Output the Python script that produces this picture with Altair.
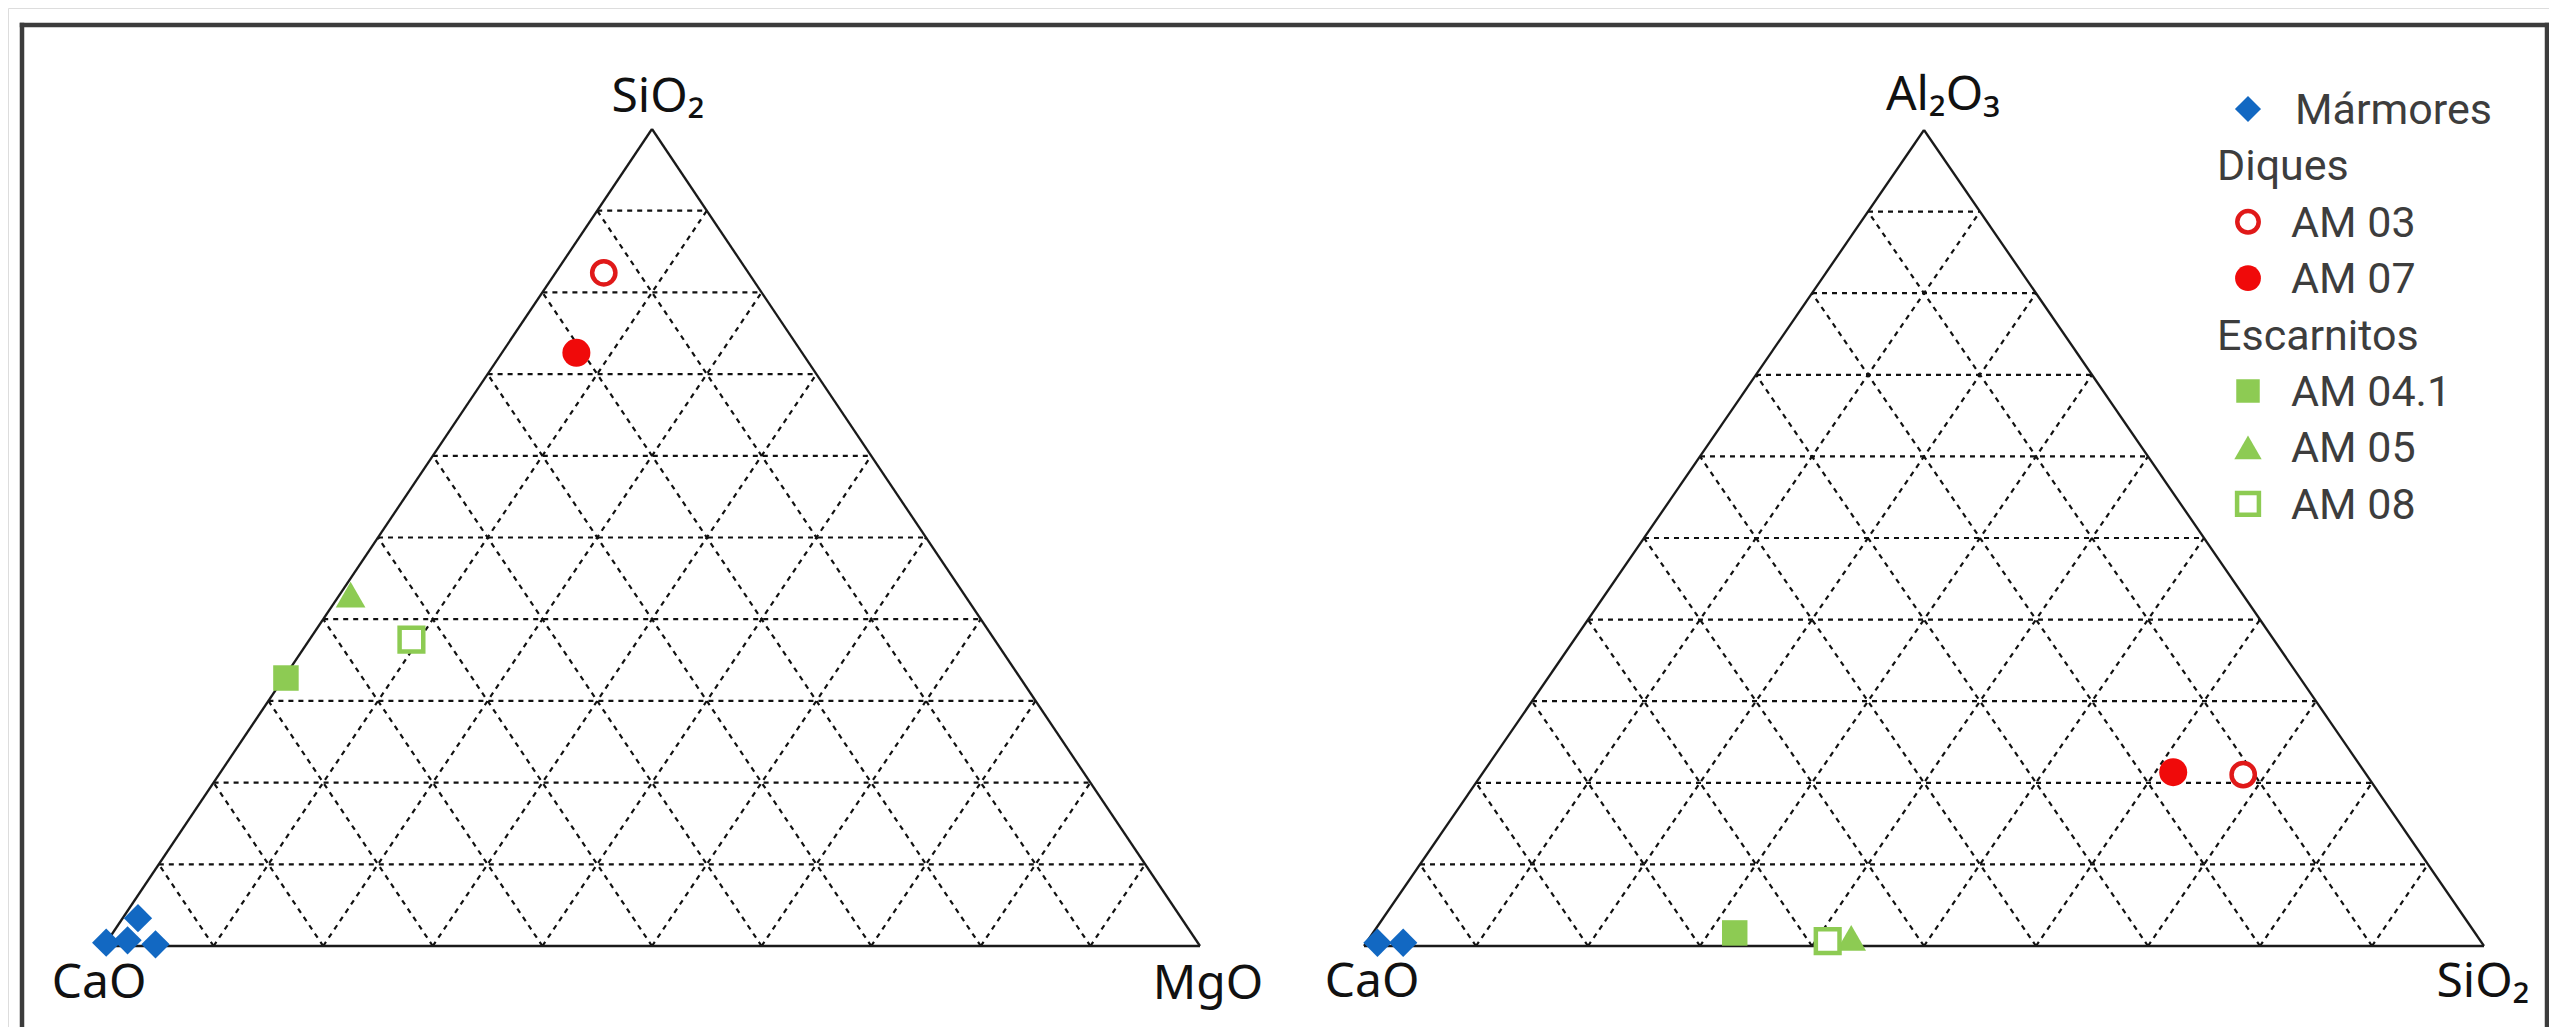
import altair as alt
import pandas as pd

# ---------------- data (percent) ----------------
# Left diagram: CaO (left corner), MgO (right corner), SiO2 (top)
L_series = ["Mármores", "Mármores", "Mármores", "Mármores",
            "AM 03", "AM 07", "AM 04.1", "AM 05", "AM 08"]
L_cao = [99.6, 97.5, 95.2, 95.2, 13.2, 20.6, 67.0, 56.0, 53.2]
L_mgo = [0.0, 1.8, 4.6, 1.4, 4.4, 6.8, 0.2, 1.0, 9.3]
L_sio2 = [0.4, 0.7, 0.2, 3.4, 82.4, 72.6, 32.8, 43.0, 37.5]

# Right diagram: CaO (left corner), SiO2 (right corner), Al2O3 (top)
R_series = ["Mármores", "Mármores", "AM 03", "AM 07", "AM 04.1", "AM 05", "AM 08"]
R_cao = [98.6, 96.3, 11.0, 17.1, 66.1, 56.0, 58.3]
R_sio2 = [1.0, 3.3, 68.0, 61.6, 32.3, 43.0, 41.1]
R_al2o3 = [0.4, 0.4, 21.0, 21.3, 1.6, 1.0, 0.6]

grid_levels = [10, 20, 30, 40, 50, 60, 70, 80, 90]

L_corner_labels = ["CaO", "MgO", "SiO₂"]
R_corner_labels = ["CaO", "SiO₂", "Al₂O₃"]

legend_labels = ["Mármores", "Diques", "AM 03", "AM 07", "Escarnitos",
                 "AM 04.1", "AM 05", "AM 08"]
legend_is_header = [False, True, False, False, True, False, False, False]
legend_marker = ["Mármores", None, "AM 03", "AM 07", None, "AM 04.1", "AM 05", "AM 08"]

# ---------------- layout (page pixels) ----------------
PANELS = {
    "L": dict(x0=104, x1=1200, yb=946, ya=129),
    "R": dict(x0=1364, x1=2484, yb=946, ya=130),
}
LABEL_OFFSETS = {
    "L": [(-5, 52), (8, 53), (6, -17)],
    "R": [(8, 51), (-1, 51), (19, -20)],
}

STYLE = {
    "Mármores": dict(shape="diamond", filled=True, color="#1268C2", size=800, sw=0),
    "AM 03": dict(shape="circle", filled=False, color="#E01919", size=540, sw=4.5),
    "AM 07": dict(shape="circle", filled=True, color="#F00A0A", size=784, sw=0),
    "AM 04.1": dict(shape="square", filled=True, color="#8DCB53", size=650, sw=0),
    "AM 05": dict(shape="triangle-up", filled=True, color="#8DCB53", size=880, sw=0),
    "AM 08": dict(shape="square", filled=False, color="#8DCB53", size=560, sw=4.5),
}
ORDER = ["Mármores", "AM 03", "AM 07", "AM 04.1", "AM 05", "AM 08"]


def tern(p, left, right, top):
    s = left + right + top
    r, t = right / s, top / s
    u = r + t / 2
    return (p["x0"] + u * (p["x1"] - p["x0"]), p["yb"] - t * (p["yb"] - p["ya"]))


# grid and edges
grid_rows, edge_rows = [], []
for key, p in PANELS.items():
    for g in grid_levels:
        t = g / 100
        for a, b in [
            (tern(p, 1 - t, 0, t), tern(p, 0, 1 - t, t)),
            (tern(p, t, 1 - t, 0), tern(p, t, 0, 1 - t)),
            (tern(p, 1 - t, t, 0), tern(p, 0, t, 1 - t)),
        ]:
            grid_rows.append(dict(x=a[0], y=a[1], x2=b[0], y2=b[1]))
    c = [tern(p, 1, 0, 0), tern(p, 0, 1, 0), tern(p, 0, 0, 1)]
    for i in range(3):
        a, b = c[i], c[(i + 1) % 3]
        edge_rows.append(dict(x=a[0], y=a[1], x2=b[0], y2=b[1]))

grid_df = pd.DataFrame(grid_rows)
edge_df = pd.DataFrame(edge_rows)

# corner labels
lab_rows = []
for key, labels in [("L", L_corner_labels), ("R", R_corner_labels)]:
    p = PANELS[key]
    corners = [tern(p, 1, 0, 0), tern(p, 0, 1, 0), tern(p, 0, 0, 1)]
    for (cx, cy), (dx, dy), txt in zip(corners, LABEL_OFFSETS[key], labels):
        lab_rows.append(dict(x=cx + dx, y=cy + dy, text=txt))
lab_df = pd.DataFrame(lab_rows)

# points
pt_rows = []
for s, a, b, c in zip(L_series, L_cao, L_mgo, L_sio2):
    x, y = tern(PANELS["L"], a, b, c)
    pt_rows.append(dict(series=s, x=x, y=y))
for s, a, b, c in zip(R_series, R_cao, R_sio2, R_al2o3):
    x, y = tern(PANELS["R"], a, b, c)
    pt_rows.append(dict(series=s, x=x, y=y))
pt_df = pd.DataFrame(pt_rows)

# frame (top, left, right; bottom is outside the picture)
FX0, FX1, FY0, FY1 = 22, 2547, 25, 1040
frame_df = pd.DataFrame([
    dict(x=FX0, y=FY0, x2=FX1, y2=FY0),
    dict(x=FX0, y=FY0, x2=FX0, y2=FY1),
    dict(x=FX1, y=FY0, x2=FX1, y2=FY1),
])

# legend
LEG_Y0, LEG_DY = 124, 56.4
leg_rows = []
for i, (txt, hdr, mk) in enumerate(zip(legend_labels, legend_is_header, legend_marker)):
    yb = LEG_Y0 + i * LEG_DY
    tx = 2217 if hdr else (2295 if txt == "Mármores" else 2291)
    leg_rows.append(dict(text=txt, x=tx, y=yb, marker=mk, mx=2248, my=yb - 15))
leg_df = pd.DataFrame(leg_rows)

# ---------------- chart ----------------
XS = alt.Scale(domain=[8, 2549], nice=False, zero=False)
YS = alt.Scale(domain=[8, 1027], nice=False, zero=False, reverse=True)


def X(f="x"):
    return alt.X(f"{f}:Q", scale=XS, axis=None)


def Y(f="y"):
    return alt.Y(f"{f}:Q", scale=YS, axis=None)


layers = []
layers.append(alt.Chart(frame_df).mark_rule(color="#3c3c3c", strokeWidth=4.5, strokeCap="square").encode(
    x=X(), y=Y(), x2="x2:Q", y2="y2:Q"))
layers.append(alt.Chart(grid_df).mark_rule(color="#111111", strokeWidth=2.2, strokeDash=[5, 5]).encode(
    x=X(), y=Y(), x2="x2:Q", y2="y2:Q"))
layers.append(alt.Chart(edge_df).mark_rule(color="#1a1a1a", strokeWidth=2.3).encode(
    x=X(), y=Y(), x2="x2:Q", y2="y2:Q"))
layers.append(alt.Chart(lab_df).mark_text(font="Noto Sans", fontSize=48, color="#111111",
                                          align="center", baseline="alphabetic").encode(
    x=X(), y=Y(), text="text:N"))

for s in ORDER:
    st = STYLE[s]
    kw = dict(shape=st["shape"], size=st["size"], opacity=1)
    if st["filled"]:
        kw.update(filled=True, fill=st["color"], strokeWidth=0)
    else:
        kw.update(filled=False, fill="white", fillOpacity=1, stroke=st["color"], strokeWidth=st["sw"])
    layers.append(alt.Chart(pt_df[pt_df.series == s]).mark_point(**kw).encode(x=X(), y=Y()))
    # legend marker
    kw2 = dict(kw)
    kw2["size"] = int(st["size"] * 0.85)
    layers.append(alt.Chart(leg_df[leg_df.marker == s]).mark_point(**kw2).encode(x=X("mx"), y=Y("my")))

layers.append(alt.Chart(leg_df).mark_text(font="Roboto", fontSize=43, color="#3d3d3d",
                                          align="left", baseline="alphabetic").encode(
    x=X(), y=Y(), text="text:N"))

chart = alt.layer(*layers).properties(
    width=2541, height=1019, padding=0,
    autosize=alt.AutoSizeParams(type="none"),
).configure_view(stroke=None).configure(background="white")

chart.save("out.html", embed_options={"renderer": "svg", "actions": False})
